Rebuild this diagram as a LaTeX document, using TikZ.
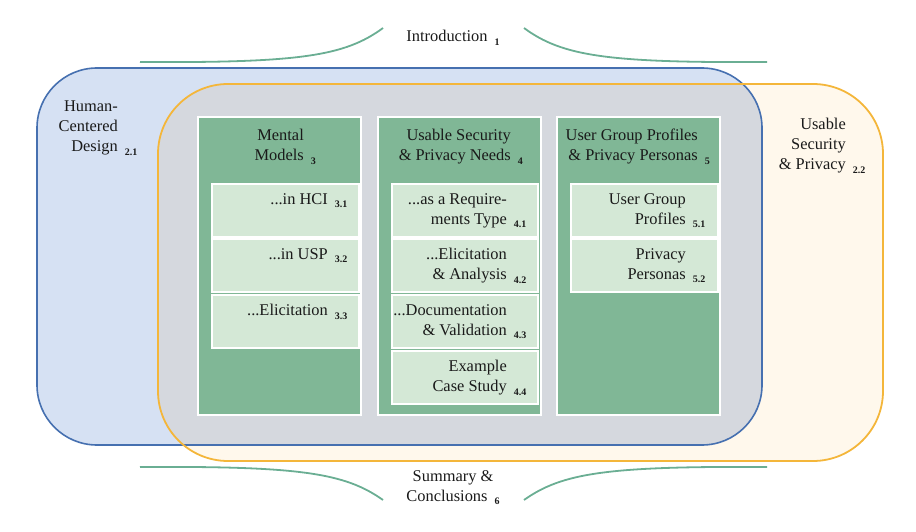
\documentclass[tikz,border=0pt]{standalone}
\usepackage{fontspec}
\setmainfont{Liberation Serif}
\definecolor{hcdfill}{HTML}{D6E1F3}
\definecolor{hcdline}{HTML}{4670B0}
\definecolor{uspfill}{HTML}{FFF8EC}
\definecolor{uspline}{HTML}{F4B63A}
\definecolor{bothfill}{HTML}{D5D8DE}
\definecolor{colgreen}{HTML}{80B796}
\definecolor{subgreen}{HTML}{D4E8D6}
\definecolor{curvegreen}{HTML}{6AAE93}
\definecolor{txt}{HTML}{1A1A1A}
\newcommand{\secnum}[1]{\raisebox{-3.5pt}{\fontsize{10}{10}\selectfont\bfseries #1}}
\newcommand{\rnum}[1]{\rlap{\hspace{7pt}\secnum{#1}}}
\begin{document}
\begin{tikzpicture}[x=1pt,y=-1pt,
  lbl/.style={anchor=north east, inner sep=0pt, align=right, text=txt, font=\fontsize{16.4}{20}\selectfont},
  clbl/.style={anchor=north, inner sep=0pt, align=center, text=txt, font=\fontsize{16.4}{20}\selectfont},
  colbox/.style={draw=white, line width=2.5pt, fill=colgreen, anchor=north west, inner sep=0pt, outer sep=0pt, minimum width=163pt, minimum height=298pt},
  subbox/.style={draw=white, line width=1.5pt, fill=subgreen, anchor=north west, inner sep=0pt, outer sep=0pt, minimum width=147pt, minimum height=53pt},
  brace/.style={draw=curvegreen, line width=1.8pt}]
\useasboundingbox (0,0) rectangle (916,532);
% areas
\fill[hcdfill, rounded corners=60pt] (37,68) rectangle (762,445);
\fill[uspfill, rounded corners=70pt] (158,84) rectangle (883,461);
\begin{scope}
  \clip[rounded corners=60pt] (37,68) rectangle (762,445);
  \fill[bothfill, rounded corners=70pt] (158,84) rectangle (883,461);
\end{scope}
\draw[hcdline, line width=1.6pt, rounded corners=60pt] (37,68) rectangle (762,445);
\draw[uspline, line width=1.8pt, rounded corners=70pt] (158,84) rectangle (883,461);
% braces
\coordinate (tl0) at (140,62); \coordinate (tl1) at (383,28);
\coordinate (tr0) at (524,28); \coordinate (tr1) at (767,62);
\coordinate (bl0) at (140,467); \coordinate (bl1) at (383,500);
\coordinate (br0) at (524,500); \coordinate (br1) at (767,467);
\draw[brace] (tl0) .. controls (300,63) and (345,56) .. (tl1);
\draw[brace] (tr0) .. controls (562,56) and (607,63) .. (tr1);
\draw[brace] (bl0) .. controls (300,466) and (345,473) .. (bl1);
\draw[brace] (br0) .. controls (562,473) and (607,466) .. (br1);
\node[clbl] (t1) at (453,30) {Introduction\hspace{7pt}\secnum{1}};
\node[clbl] (t6) at (453,470) {Summary \&\\Conclusions\hspace{7pt}\secnum{6}};
\node[lbl] (t21) at (118,101) {Human-\\Centered\\Design\rnum{2.1}};
\node[lbl] (t22) at (846,118) {Usable\\Security\\\& Privacy\rnum{2.2}};
% columns
\node[colbox] (c3) at (198,117) {};
\node[colbox] (c4) at (378,117) {};
\node[colbox] (c5) at (557,117) {};
\node[lbl] (t3) at (304,129) {Mental\\Models\rnum{3}};
\node[lbl] (t4) at (511,129) {Usable Security\\\& Privacy Needs\rnum{4}};
\node[lbl] (t5) at (698,129) {User Group Profiles\\\& Privacy Personas\rnum{5}};
% sub boxes
\node[subbox] (s31) at (212,184) {};
\node[subbox] (s32) at (212,239) {};
\node[subbox] (s33) at (212,295) {};
\node[subbox, minimum width=146pt] (s41) at (392,184) {};
\node[subbox, minimum width=146pt] (s42) at (392,239) {};
\node[subbox, minimum width=146pt] (s43) at (392,295) {};
\node[subbox, minimum width=146pt] (s44) at (392,351) {};
\node[subbox] (s51) at (571,184) {};
\node[subbox] (s52) at (571,239) {};
\node[lbl] (u31) at ([xshift=-31pt,yshift=-9pt]s31.north east) {...in HCI\rnum{3.1}};
\node[lbl] (u32) at ([xshift=-31pt,yshift=-9pt]s32.north east) {...in USP\rnum{3.2}};
\node[lbl] (u33) at ([xshift=-31pt,yshift=-9pt]s33.north east) {...Elicitation\rnum{3.3}};
\node[lbl] (u41) at ([xshift=-31pt,yshift=-9pt]s41.north east) {...as a Require-\\ments Type\rnum{4.1}};
\node[lbl] (u42) at ([xshift=-31pt,yshift=-9pt]s42.north east) {...Elicitation\\\& Analysis\rnum{4.2}};
\node[lbl] (u43) at ([xshift=-31pt,yshift=-9pt]s43.north east) {...Documentation\\\& Validation\rnum{4.3}};
\node[lbl] (u44) at ([xshift=-31pt,yshift=-9pt]s44.north east) {Example\\Case Study\rnum{4.4}};
\node[lbl] (u51) at ([xshift=-32pt,yshift=-9pt]s51.north east) {User Group\\Profiles\rnum{5.1}};
\node[lbl] (u52) at ([xshift=-32pt,yshift=-9pt]s52.north east) {Privacy\\Personas\rnum{5.2}};
\end{tikzpicture}
\end{document}
